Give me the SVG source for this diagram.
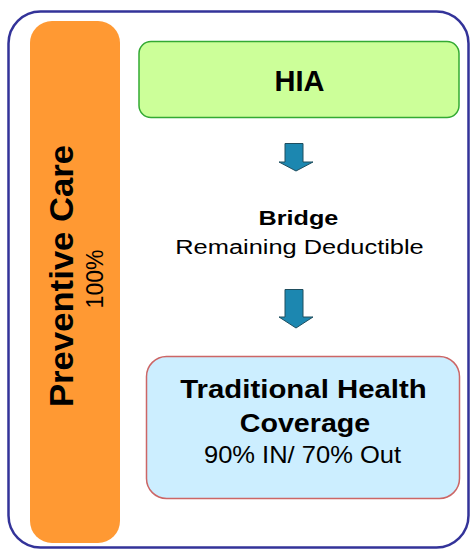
<svg xmlns="http://www.w3.org/2000/svg" width="470" height="551" viewBox="0 0 470 551">
<style>
text{font-family:"Liberation Sans",Arial,sans-serif;fill:#000;text-anchor:middle}
.b{font-weight:bold}
.arrow{fill:#1C87B0;stroke:#1F4E5F;stroke-width:1}
</style>
<rect x="0" y="0" width="470" height="551" fill="#fff"/>
<rect x="8.5" y="11.5" width="460" height="536" rx="32" fill="#fff" stroke="#333399" stroke-width="2.5"/>
<g id="preventive">
<rect x="30" y="21" width="90" height="522" rx="22" fill="#FF9933"/>
<text class="b" font-size="34" transform="translate(73,276) rotate(-90) scale(1.02,1)">Preventive Care</text>
<text font-size="23" transform="translate(103,279) rotate(-90)">100%</text>
</g>
<g id="hia">
<rect x="139" y="41.5" width="320" height="76" rx="12" fill="#CCFF99" stroke="#33AA33" stroke-width="1.5"/>
<text class="b" font-size="29" x="299.5" y="90.5">HIA</text>
</g>
<g id="bridge">
<text class="b" font-size="20" transform="translate(298.5,225) scale(1.26,1)">Bridge</text>
<text font-size="20" transform="translate(299.5,254) scale(1.27,1)">Remaining Deductible</text>
</g>
<g id="traditional">
<rect x="146.5" y="356.5" width="313" height="142" rx="20" fill="#CCEEFF" stroke="#CC6666" stroke-width="1.5"/>
<text class="b" font-size="26" transform="translate(303.5,398) scale(1.13,1)">Traditional Health</text>
<text class="b" font-size="26" transform="translate(305,432) scale(1.1,1)">Coverage</text>
<text font-size="23" transform="translate(302.5,463) scale(1.11,1)">90% IN/ 70% Out</text>
</g>
<g id="connectors">
<path class="arrow" d="M285,143.5 H303 V162 H313 L296,171 L279,162 H285 Z"/>
<path class="arrow" d="M285,289.5 H303 V317 H313 L296,328 L279,317 H285 Z"/>
</g>
</svg>
